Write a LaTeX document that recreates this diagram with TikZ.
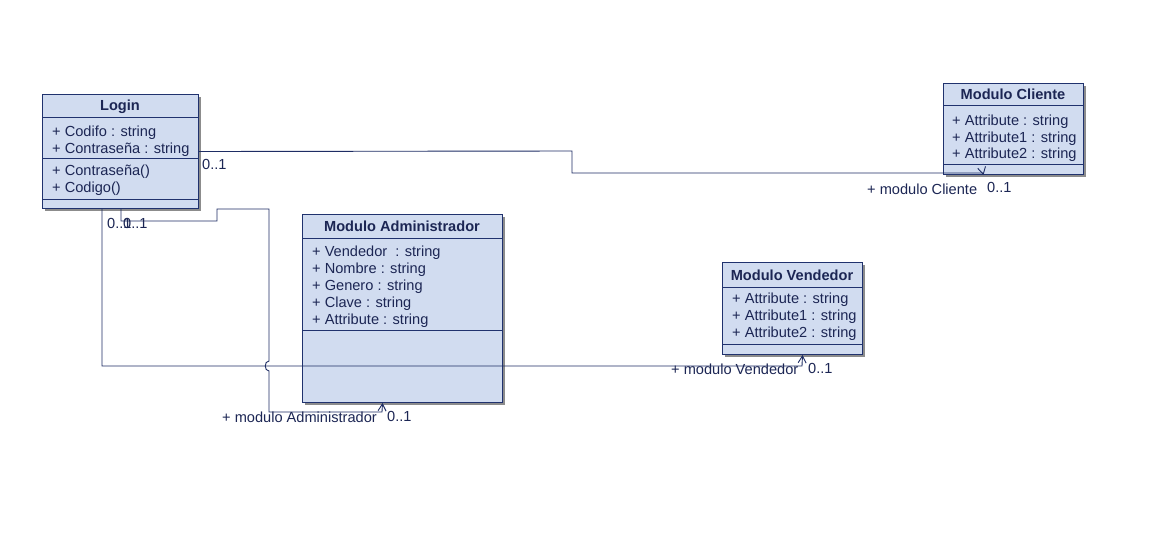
\documentclass[tikz,border=0pt]{standalone}
\usepackage{fontspec}
\setmainfont{Liberation Sans}
\usetikzlibrary{arrows.meta,shadows}
\definecolor{boxfill}{RGB}{209,220,240}
\definecolor{boxline}{RGB}{32,50,110}
\definecolor{txt}{RGB}{28,38,84}
\definecolor{conncol}{RGB}{30,45,100}
\begin{document}
\begin{tikzpicture}[x=1pt,y=-1pt,
  every node/.style={font=\fontsize{14.6}{17}\selectfont, text=txt, inner sep=0pt},
  cls/.style={draw=boxline, fill=boxfill, line width=1pt, anchor=north west,
    drop shadow={shadow xshift=2pt, shadow yshift=-2pt, fill=black!45, opacity=1}},
  divider/.style={draw=boxline, line width=1pt},
  ttl/.style={anchor=base, font=\fontsize{14.6}{17}\selectfont\bfseries},
  attr/.style={anchor=base west},
  lbl/.style={anchor=base west},
  conn/.style={draw=conncol, line width=0.9pt},
  nav/.style={conn, -{Straight Barb[length=7pt,width=8pt]}}
]
\useasboundingbox (0,0) rectangle (1166,539);
\fill[white] (0,0) rectangle (1166,539);

% Login
\node[cls, minimum width=156pt, minimum height=114pt] (login) at (42,94) {};
\draw[divider] (42,117) -- (198,117);
\draw[divider] (42,158) -- (198,158);
\draw[divider] (42,199) -- (198,199);
\node[ttl] (login-t) at (120,110) {Login};
\node[attr] (login-a1) at (52,136) {+ Codifo : string};
\node[attr] (login-a2) at (52,153) {+ Contraseña : string};
\node[attr] (login-o1) at (52,175) {+ Contraseña()};
\node[attr] (login-o2) at (52,192) {+ Codigo()};

% Modulo Cliente
\node[cls, minimum width=140pt, minimum height=91pt] (cliente) at (943,83) {};
\draw[divider] (943,105) -- (1083,105);
\draw[divider] (943,164) -- (1083,164);
\node[ttl] (cliente-t) at (1013,99) {Modulo Cliente};
\node[attr] (cliente-a1) at (952,125) {+ Attribute : string};
\node[attr] (cliente-a2) at (952,142) {+ Attribute1 : string};
\node[attr] (cliente-a3) at (952,158.5) {+ Attribute2 : string};

% Modulo Administrador
\node[cls, minimum width=200pt, minimum height=188pt] (admin) at (302,214) {};
\draw[divider] (302,238) -- (502,238);
\draw[divider] (302,330) -- (502,330);
\node[ttl] (admin-t) at (402,231) {Modulo Administrador};
\node[attr] (admin-a1) at (312,256.5) {+ Vendedor\ \ : string};
\node[attr] (admin-a2) at (312,273.5) {+ Nombre : string};
\node[attr] (admin-a3) at (312,290.5) {+ Genero : string};
\node[attr] (admin-a4) at (312,307.5) {+ Clave : string};
\node[attr] (admin-a5) at (312,324.5) {+ Attribute : string};

% Modulo Vendedor
\node[cls, minimum width=140pt, minimum height=92pt] (vend) at (722,262) {};
\draw[divider] (722,287) -- (862,287);
\draw[divider] (722,344) -- (862,344);
\node[ttl] (vend-t) at (792,280) {Modulo Vendedor};
\node[attr] (vend-a1) at (732,303) {+ Attribute : string};
\node[attr] (vend-a2) at (732,320) {+ Attribute1 : string};
\node[attr] (vend-a3) at (732,337) {+ Attribute2 : string};

% Login -> Modulo Cliente
\draw[nav] (login.east) -- (572,151) -- (572,173) -- (983,173) -- ([xshift=-30pt]cliente.south);
% Login -> Modulo Vendedor
\draw[nav] ([xshift=60pt]login.south west) -- (102,366) -- (802,366) -- ([xshift=10pt]vend.south);
% Login -> Modulo Administrador
\draw[nav] ([xshift=79pt]login.south west) -- (121,221) -- (217,221) -- (217,209) -- (269,209) -- (269,361)
  .. controls (264,361) and (264,371) .. (269,371) -- (269,412) -- (382,412) -- ([xshift=-20pt]admin.south);

% labels
\node[lbl] (m1) at (202,169) {0..1};
\node[lbl] (m2) at (107,228) {0..1};
\node[lbl] (m3) at (123,228) {0..1};
\node[lbl] (r1) at (867,194) {+ modulo Cliente};
\node[lbl] (m4) at (987,192) {0..1};
\node[lbl] (r2) at (671,374) {+ modulo Vendedor};
\node[lbl] (m5) at (808,373) {0..1};
\node[lbl] (r3) at (222,422) {+ modulo Administrador};
\node[lbl] (m6) at (387,421) {0..1};
\end{tikzpicture}
\end{document}
